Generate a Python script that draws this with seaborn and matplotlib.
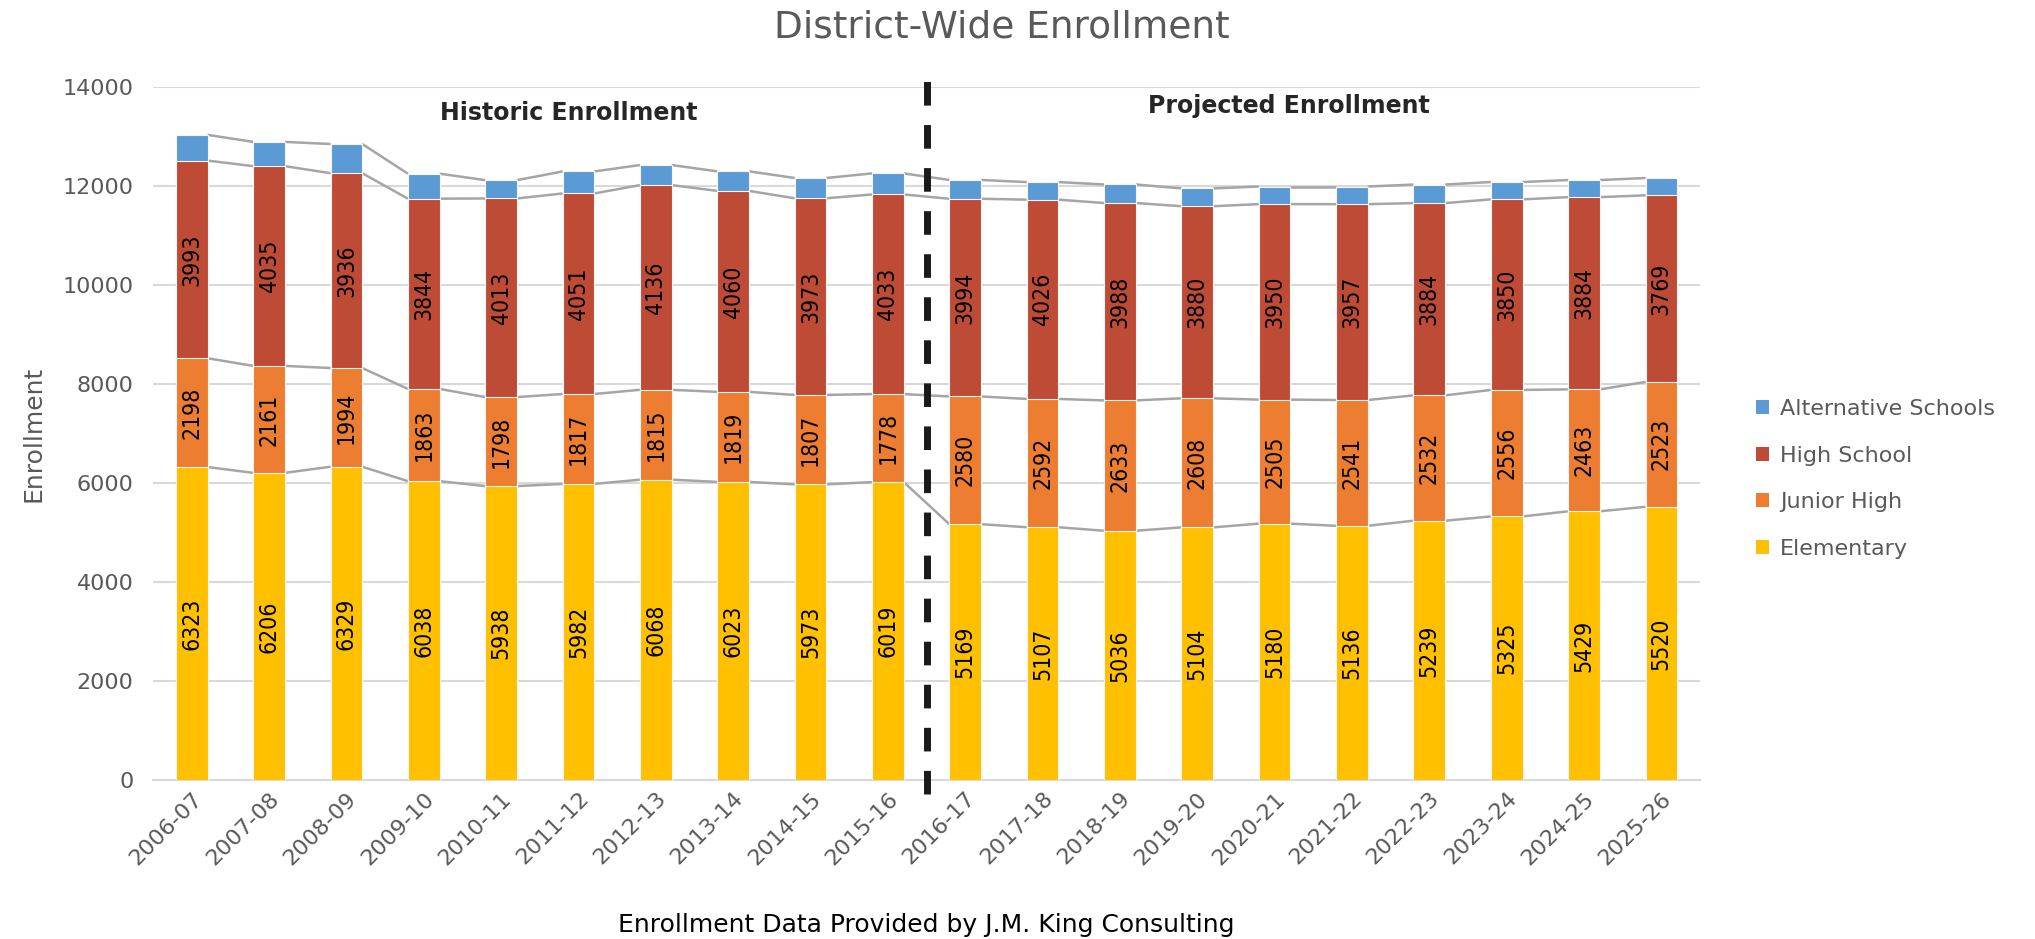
import numpy as np
import pandas as pd
import matplotlib
matplotlib.use("Agg")
import matplotlib.pyplot as plt
import seaborn as sns
from matplotlib.patches import Patch

years = ["2006-07", "2007-08", "2008-09", "2009-10", "2010-11", "2011-12", "2012-13",
         "2013-14", "2014-15", "2015-16", "2016-17", "2017-18", "2018-19", "2019-20",
         "2020-21", "2021-22", "2022-23", "2023-24", "2024-25", "2025-26"]
elementary = [6323, 6206, 6329, 6038, 5938, 5982, 6068, 6023, 5973, 6019,
              5169, 5107, 5036, 5104, 5180, 5136, 5239, 5325, 5429, 5520]
junior_high = [2198, 2161, 1994, 1863, 1798, 1817, 1815, 1819, 1807, 1778,
               2580, 2592, 2633, 2608, 2505, 2541, 2532, 2556, 2463, 2523]
high_school = [3993, 4035, 3936, 3844, 4013, 4051, 4136, 4060, 3973, 4033,
               3994, 4026, 3988, 3880, 3950, 3957, 3884, 3850, 3884, 3769]
alternative = [520, 490, 590, 505, 370, 445, 405, 395, 410, 425,
               380, 355, 375, 360, 355, 356, 375, 350, 345, 350]

series_names = ["Elementary", "Junior High", "High School", "Alternative Schools"]
series_vals = [elementary, junior_high, high_school, alternative]
colors = ["#FFC000", "#ED7D31", "#BE4B35", "#5B9BD5"]

sns.set_theme(style="white")
plt.rcParams["font.family"] = ["DejaVu Sans"]
TXT = "#595959"

fig = plt.figure(figsize=(20.35, 9.39), dpi=100)
ax = fig.add_axes([0.0752, 0.1693, 0.7602, 0.738])

cum = np.zeros(len(years))
cums = []
for vals in series_vals:
    cum = cum + np.array(vals)
    cums.append(cum.copy())

W = 0.41
# draw from top (largest cumulative) to bottom
for k in range(len(series_names) - 1, -1, -1):
    d = pd.DataFrame({"year": years, "total": cums[k]})
    sns.barplot(data=d, x="year", y="total", color=colors[k], width=W,
                edgecolor="#F5F5F5", linewidth=0.8, saturation=1, ax=ax, zorder=3)

# series lines
x = np.arange(len(years))
for k in range(len(series_names)):
    for i in range(len(years) - 1):
        ax.plot([x[i] + W / 2, x[i + 1] - W / 2], [cums[k][i], cums[k][i + 1]],
                color="#A5A5A5", lw=1.8, zorder=2, solid_capstyle="butt")

# data labels (not for alternative schools)
for k in range(3):
    base = cums[k] - np.array(series_vals[k])
    for i in range(len(years)):
        ax.text(x[i], base[i] + series_vals[k][i] / 2, str(series_vals[k][i]),
                rotation=90, ha="center", va="center", fontsize=16.5,
                color="black", fontstretch="condensed", zorder=5)

ax.set_xlim(-0.5, len(years) - 0.5)
ax.set_ylim(0, 14000)
ax.set_yticks(np.arange(0, 14001, 2000))
ax.yaxis.grid(True, color="#D9D9D9", lw=1.5, zorder=0)
ax.set_axisbelow(True)
for s in ["top", "right", "left"]:
    ax.spines[s].set_visible(False)
ax.spines["bottom"].set_color("#D9D9D9")
ax.spines["bottom"].set_linewidth(1.5)
ax.tick_params(axis="y", colors=TXT, labelsize=16, length=0, pad=14)
ax.tick_params(axis="x", colors=TXT, labelsize=16, length=0, pad=6)
plt.setp(ax.get_xticklabels(), rotation=45, ha="right", rotation_mode="anchor")

ax.set_ylabel("Enrollment", fontsize=18, color=TXT, labelpad=12)
ax.set_xlabel("Enrollment Data Provided by J.M. King Consulting", fontsize=18,
              color="black", labelpad=32)
fig.text(0.4925, 0.971, "District-Wide Enrollment", ha="center", va="center",
         fontsize=27, color=TXT)

# divider between historic and projected
ax.plot([9.5, 9.5], [-290, 14230], color="#1A1A1A", lw=5, dashes=(3.4, 2.8),
        clip_on=False, zorder=6)
ax.text(4.87, 13475, "Historic Enrollment", ha="center", va="center",
        fontsize=17, fontweight="bold", color="#262626", zorder=6)
ax.text(14.19, 13616, "Projected Enrollment", ha="center", va="center",
        fontsize=17, fontweight="bold", color="#262626", zorder=6)

handles = [Patch(facecolor=colors[k], edgecolor="none", label=series_names[k])
           for k in range(3, -1, -1)]
fig.legend(handles=handles, loc="center left", bbox_to_anchor=(0.853, 0.49),
           frameon=False, fontsize=16, labelcolor=TXT, handlelength=0.6,
           handleheight=0.6, handletextpad=0.5, labelspacing=1.2)

fig.savefig("out.png", dpi=100)
